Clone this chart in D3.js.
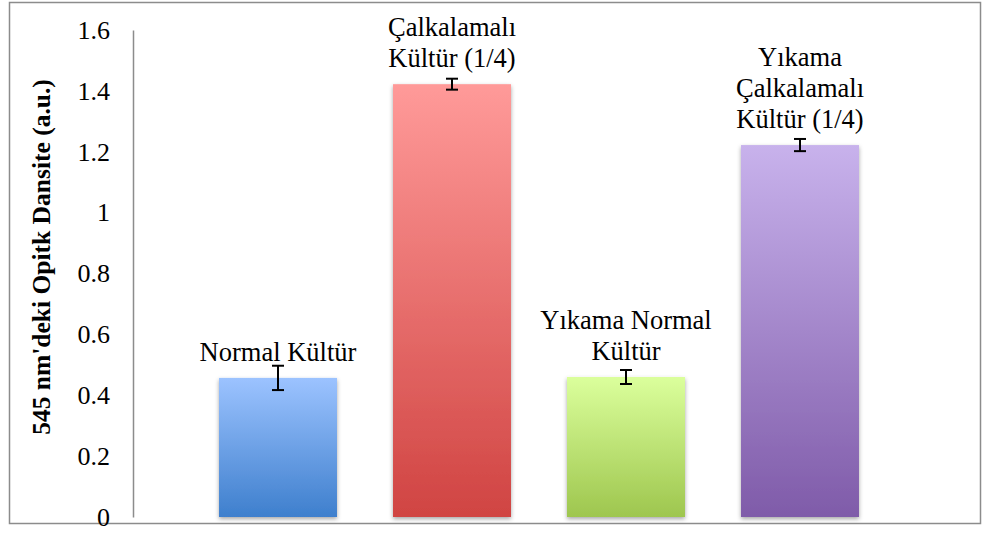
<!DOCTYPE html>
<html>
<head>
<meta charset="utf-8">
<script src="https://cdn.jsdelivr.net/npm/d3@7"></script>
<style>
body { margin: 0; background: white; }
svg { display: block; }
</style>
</head>
<body>
<svg></svg>
<script>
var w = 982;
var h = 534;

var categories = ["Normal Kültür", "Çalkalamalı Kültür (1/4)", "Yıkama Normal Kültür", "Yıkama Çalkalamalı Kültür (1/4)"];
var labelLines = [["Normal Kültür"], ["Çalkalamalı", "Kültür (1/4)"], ["Yıkama Normal", "Kültür"], ["Yıkama", "Çalkalamalı", "Kültür (1/4)"]];
var values = [0.457, 1.422, 0.460, 1.222];
var errors = [0.040, 0.018, 0.023, 0.020];
var yTicks = [0, 0.2, 0.4, 0.6, 0.8, 1, 1.2, 1.4, 1.6];
var topColors = ["#9cc3ff", "#ff9a99", "#dbff9c", "#c8b2ec"];
var bottomColors = ["#3e7fcd", "#d04442", "#9ec64e", "#7f5ba9"];

var serif = "'Liberation Serif', 'Times New Roman', Times, 'DejaVu Serif', serif";

var canvas = d3.select("svg")
	.attr("width", w)
	.attr("height", h);

// outer frame
canvas.append("rect")
	.attr("x", 9.5)
	.attr("y", 2.5)
	.attr("width", 971)
	.attr("height", 521)
	.attr("fill", "white")
	.attr("stroke", "#8c8c8c")
	.attr("stroke-width", 1.5);

var x = d3.scaleBand()
	.domain(categories)
	.range([191, 887])
	.paddingInner(0.322)
	.paddingOuter(0.161);

var y = d3.scaleLinear()
	.domain([0, 1.6])
	.range([517, 30]);

var defs = canvas.append("defs");
categories.forEach(function (c, i) {
	var g = defs.append("linearGradient")
		.attr("id", "grad" + i)
		.attr("x1", "0%").attr("x2", "0%")
		.attr("y1", "0%").attr("y2", "100%");
	g.append("stop").attr("offset", "0%").attr("stop-color", topColors[i]);
	g.append("stop").attr("offset", "100%").attr("stop-color", bottomColors[i]);
});
var filter = defs.append("filter")
	.attr("id", "shadow")
	.attr("x", "-10%").attr("y", "-10%")
	.attr("width", "120%").attr("height", "120%");
filter.append("feDropShadow")
	.attr("dx", 0).attr("dy", 2)
	.attr("stdDeviation", 2)
	.attr("flood-color", "#000")
	.attr("flood-opacity", 0.35);

// y axis
var yAxis = canvas.append("g")
	.attr("transform", "translate(133,0)")
	.call(d3.axisLeft(y).tickValues(yTicks).tickSize(0).tickPadding(23)
		.tickFormat(function (d) { return String(d); }));
yAxis.attr("font-family", serif).attr("font-size", 26);
yAxis.select(".domain").attr("stroke", "#8c8c8c").attr("stroke-width", 1.5);
yAxis.selectAll("text").attr("fill", "#000");

canvas.append("text")
	.attr("transform", "translate(50,257) rotate(-90)")
	.attr("text-anchor", "middle")
	.attr("font-family", serif)
	.attr("font-size", 25.5)
	.attr("font-weight", "bold")
	.text("545 nm'deki Opitk Dansite (a.u.)");

// bars
canvas.selectAll("rect.bar")
	.data(values)
	.join("rect")
	.attr("class", "bar")
	.attr("x", function (d, i) { return x(categories[i]); })
	.attr("y", function (d) { return y(d); })
	.attr("width", x.bandwidth())
	.attr("height", function (d) { return y(0) - y(d); })
	.attr("fill", function (d, i) { return "url(#grad" + i + ")"; })
	.attr("filter", "url(#shadow)");

// error bars
var err = canvas.selectAll("g.err")
	.data(values)
	.join("g")
	.attr("class", "err")
	.attr("stroke", "#000")
	.attr("stroke-width", 2);
err.append("line")
	.attr("x1", function (d, i) { return x(categories[i]) + x.bandwidth() / 2; })
	.attr("x2", function (d, i) { return x(categories[i]) + x.bandwidth() / 2; })
	.attr("y1", function (d, i) { return y(d + errors[i]); })
	.attr("y2", function (d, i) { return y(d - errors[i]); });
[1, -1].forEach(function (s) {
	err.append("line")
		.attr("x1", function (d, i) { return x(categories[i]) + x.bandwidth() / 2 - 6; })
		.attr("x2", function (d, i) { return x(categories[i]) + x.bandwidth() / 2 + 6; })
		.attr("y1", function (d, i) { return y(d + s * errors[i]); })
		.attr("y2", function (d, i) { return y(d + s * errors[i]); });
});

// data labels
categories.forEach(function (c, i) {
	var lines = labelLines[i];
	var t = canvas.append("text")
		.attr("text-anchor", "middle")
		.attr("font-family", serif)
		.attr("font-size", 26.5);
	lines.forEach(function (l, k) {
		t.append("tspan")
			.attr("x", x(c) + x.bandwidth() / 2)
			.attr("y", y(values[i]) - 17 - (lines.length - 1 - k) * 31)
			.text(l);
	});
});
</script>
</body>
</html>
